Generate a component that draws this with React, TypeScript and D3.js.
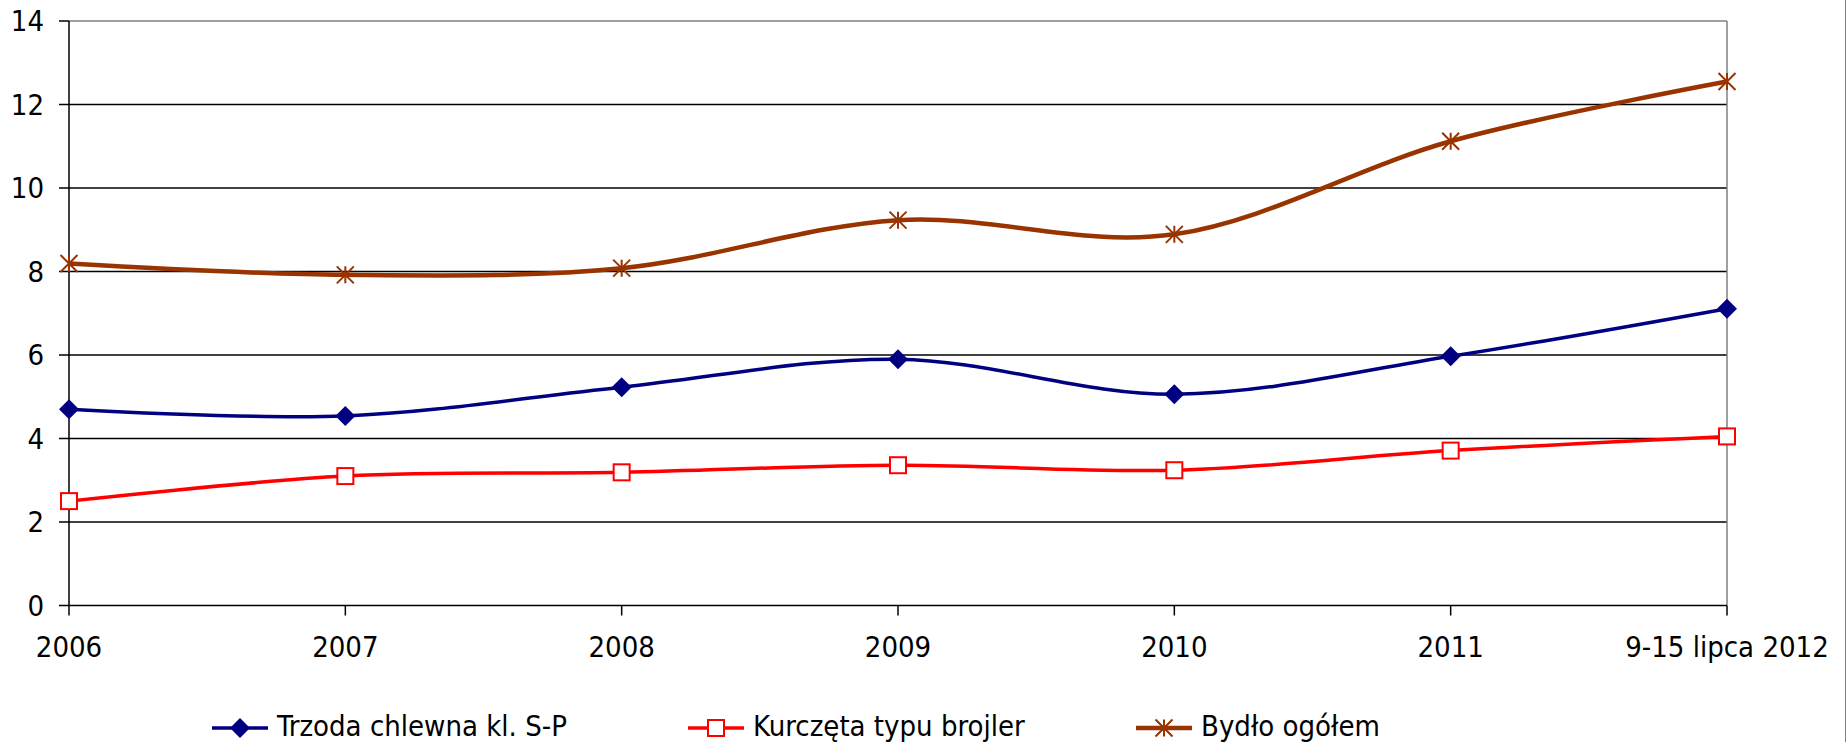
import React from "react";
import * as d3 from "d3";

const categories = ["2006", "2007", "2008", "2009", "2010", "2011", "9-15 lipca 2012"];
const trzoda = [4.7, 4.54, 5.23, 5.9, 5.06, 5.97, 7.11];
const kurczeta = [2.5, 3.1, 3.19, 3.36, 3.24, 3.71, 4.05];
const bydlo = [8.19, 7.92, 8.08, 9.23, 8.89, 11.12, 12.55];
const yTicks = [0, 2, 4, 6, 8, 10, 12, 14];
const seriesNames = ["Trzoda chlewna kl. S-P", "Kurczęta typu brojler", "Bydło ogółem"];

const W = 1846;
const H = 742;
const FONT = "'DejaVu Sans Condensed', 'DejaVu Sans', sans-serif";

const x = d3.scalePoint<string>().domain(categories).range([69, 1727]);
const y = d3.scaleLinear().domain([0, 14]).range([605.5, 21]);

const line = d3
  .line<number>()
  .x((_, i) => x(categories[i]) as number)
  .y((d) => y(d))
  .curve(d3.curveCardinal.tension(0));

const BLUE = "#000080";
const RED = "#FF0000";
const BROWN = "#993300";

function Diamond({ cx, cy }: { cx: number; cy: number }) {
  const r = 10;
  return <path d={`M${cx},${cy - r}L${cx + r},${cy}L${cx},${cy + r}L${cx - r},${cy}Z`} fill={BLUE} />;
}
function Square({ cx, cy }: { cx: number; cy: number }) {
  const s = 16;
  return <rect x={cx - s / 2} y={cy - s / 2} width={s} height={s} fill="#fff" stroke={RED} strokeWidth={2} />;
}
function Star({ cx, cy }: { cx: number; cy: number }) {
  const r = 8.5;
  return (
    <path
      d={`M${cx - r},${cy - r}L${cx + r},${cy + r}M${cx - r},${cy + r}L${cx + r},${cy - r}M${cx},${cy - r}L${cx},${cy + r}`}
      stroke={BROWN}
      strokeWidth={2}
      fill="none"
    />
  );
}

export default function App() {
  const series = [
    { data: trzoda, color: BLUE, width: 3.5, M: Diamond },
    { data: kurczeta, color: RED, width: 3.5, M: Square },
    { data: bydlo, color: BROWN, width: 4.5, M: Star },
  ];
  const legendX = [212, 688, 1136];
  const legendY = 728;
  return (
    <svg
      width={W}
      height={H}
      style={{ position: "absolute", left: 0, top: 0, background: "#fff" }}
      fontFamily={FONT}
    >
      <rect x={0} y={0} width={W} height={H} fill="#fff" />
      {yTicks.map((t) =>
        t === 0 ? null : (
          <line
            key={t}
            x1={69}
            x2={1727}
            y1={y(t)}
            y2={y(t)}
            stroke={t === 14 ? "#808080" : "#000"}
            strokeWidth={1.5}
          />
        )
      )}
      <line x1={1727} x2={1727} y1={21} y2={605.5} stroke="#808080" strokeWidth={1.5} />
      <line x1={69} x2={69} y1={21} y2={605.5} stroke="#000" strokeWidth={1.5} />
      <line x1={69} x2={1727} y1={605.5} y2={605.5} stroke="#000" strokeWidth={1.5} />
      {yTicks.map((t) => (
        <g key={"yt" + t}>
          <line x1={59} x2={69} y1={y(t)} y2={y(t)} stroke="#000" strokeWidth={1.5} />
          <text x={44} y={y(t)} dy="0.36em" textAnchor="end" fontSize={29} fill="#000">
            {t}
          </text>
        </g>
      ))}
      {categories.map((c) => (
        <g key={"xt" + c}>
          <line x1={x(c)} x2={x(c)} y1={605.5} y2={615.5} stroke="#000" strokeWidth={1.5} />
          <text x={x(c)} y={657} textAnchor="middle" fontSize={29} fill="#000">
            {c}
          </text>
        </g>
      ))}
      {series.map((s, si) => (
        <g key={"s" + si}>
          <path d={line(s.data) as string} fill="none" stroke={s.color} strokeWidth={s.width} />
          {s.data.map((v, i) => (
            <s.M key={i} cx={x(categories[i]) as number} cy={y(v)} />
          ))}
        </g>
      ))}
      {series.map((s, si) => (
        <g key={"l" + si}>
          <line x1={legendX[si]} x2={legendX[si] + 56} y1={legendY} y2={legendY} stroke={s.color} strokeWidth={s.width} />
          <s.M cx={legendX[si] + 28} cy={legendY} />
          <text x={legendX[si] + 65} y={736} fontSize={29} fill="#000">
            {seriesNames[si]}
          </text>
        </g>
      ))}
      <line x1={1845.5} x2={1845.5} y1={0} y2={H} stroke="#808080" strokeWidth={1} />
    </svg>
  );
}
